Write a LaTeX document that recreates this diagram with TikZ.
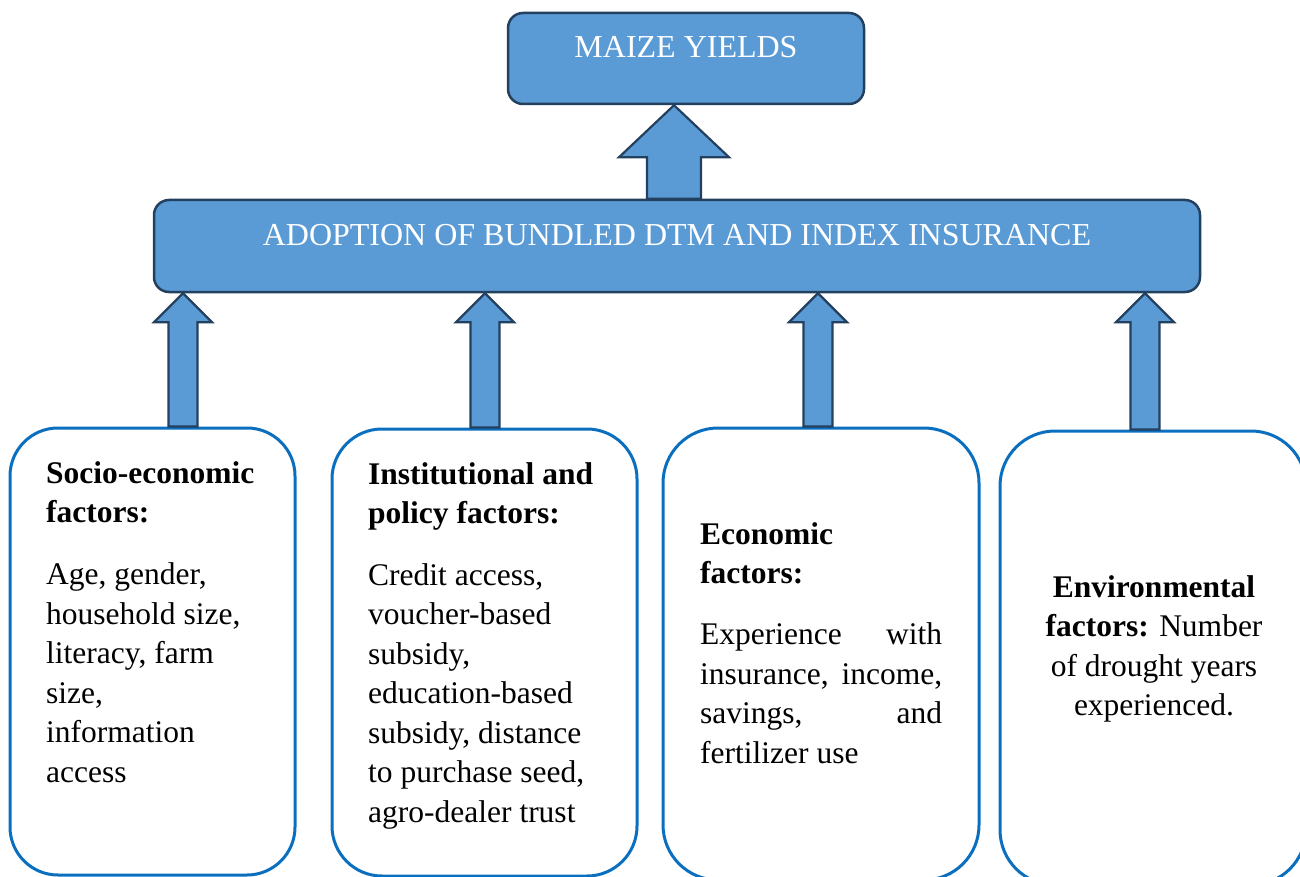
\documentclass[tikz,border=0pt]{standalone}
\usepackage{fontspec}
\setmainfont{Liberation Serif}
\usetikzlibrary{calc}

\definecolor{boxfill}{HTML}{5B9BD5}
\definecolor{boxline}{HTML}{23405F}
\definecolor{factorline}{HTML}{0B6FC0}

\newcommand{\factorfont}{\fontsize{31.5}{39.5}\selectfont}

% Upward block arrow at horizontal position #1, from the top of node #2
% to the bottom of node #3; #4 shaft half width, #5 head half width,
% #6 head length.
\newcommand{\upblockarrow}[6]{%
  \path (#1,0 |- #2.north) coordinate (arrowbase)
        (#1,0 |- #3.south) coordinate (arrowtip);
  \draw[blockarrow]
    ($(arrowbase)+(-#4,0)$) -- ($(arrowtip)+(-#4,#6)$) -- ($(arrowtip)+(-#5,#6)$)
    -- (arrowtip) -- ($(arrowtip)+(#5,#6)$) -- ($(arrowtip)+(#4,#6)$)
    -- ($(arrowbase)+(#4,0)$) -- cycle;
}

\begin{document}
\begin{tikzpicture}[x=1pt,y=-1pt,
  mainbox/.style={draw=boxline, fill=boxfill, line width=2.5pt,
    rounded corners=15pt, inner sep=0pt},
  factorbox/.style={draw=factorline, fill=white, line width=3pt, inner sep=0pt},
  blockarrow/.style={draw=boxline, fill=boxfill, line width=2.2pt, line join=miter},
  titletext/.style={text=white, font=\fontsize{32}{38}\selectfont, inner sep=0pt},
  factortext/.style={inner sep=0pt, text=black}]

\useasboundingbox (0,0) rectangle (1300,877);
\clip (0,0) rectangle (1300,877);

% Outcome and adoption boxes
\node[mainbox, minimum width=356, minimum height=91] (maize) at (686,58.5) {};
\node[mainbox, minimum width=1046, minimum height=92] (adopt) at (677,246) {};
\node[titletext, anchor=base] (maizetext) at (686,58) {MAIZE YIELDS};
\node[titletext, anchor=base] (adopttext) at (677,246)
  {ADOPTION OF BUNDLED DTM AND INDEX INSURANCE};

% Factor boxes
\node[factorbox, rounded corners=48pt, minimum width=285, minimum height=447]
  (socio) at (152.5,651.5) {};
\node[factorbox, rounded corners=50pt, minimum width=305, minimum height=447]
  (inst) at (484.5,652.5) {};
\node[factorbox, rounded corners=55pt, minimum width=316, minimum height=452]
  (econ) at (821,654) {};
\node[factorbox, rounded corners=55pt, minimum width=306, minimum height=454]
  (env) at (1153,658) {};

% Block arrows
\upblockarrow{674}{adopt}{maize}{27}{55}{52}
\upblockarrow{183}{socio}{adopt}{14.5}{29}{29}
\upblockarrow{485}{inst}{adopt}{14.5}{29}{29}
\upblockarrow{818}{econ}{adopt}{14.5}{29}{29}
\upblockarrow{1145}{env}{adopt}{14.5}{29}{29}

% Factor texts
\node[factortext, anchor=base west] (sociotext) at (46,483) {\parbox[t]{240pt}{%
  \factorfont\raggedright
  \textbf{Socio-economic}\\
  \textbf{factors:}\\[22.5pt]
  Age, gender,\\
  household size,\\
  literacy, farm\\
  size,\\
  information\\
  access}};

\node[factortext, anchor=base west] (insttext) at (368,484) {\parbox[t]{260pt}{%
  \factorfont\raggedright
  \textbf{Institutional and}\\
  \textbf{policy factors:}\\[22pt]
  Credit access,\\
  voucher-based\\
  subsidy,\\
  education-based\\
  subsidy, distance\\
  to purchase seed,\\
  agro-dealer trust}};

\node[factortext, anchor=base west] (econtext) at (700,544) {\parbox[t]{242pt}{%
  \factorfont\raggedright
  \textbf{Economic}\\
  \textbf{factors:}\\[21.5pt]
  Experience\hfill with\\
  insurance,\hfill income,\\
  savings,\hfill and\\
  fertilizer use}};

\node[factortext, anchor=base] (envtext) at (1154,597) {\parbox[t]{300pt}{%
  \factorfont\centering
  \textbf{Environmental}\\
  \textbf{factors:} Number\\
  of drought years\\
  experienced.}};

\end{tikzpicture}
\end{document}
